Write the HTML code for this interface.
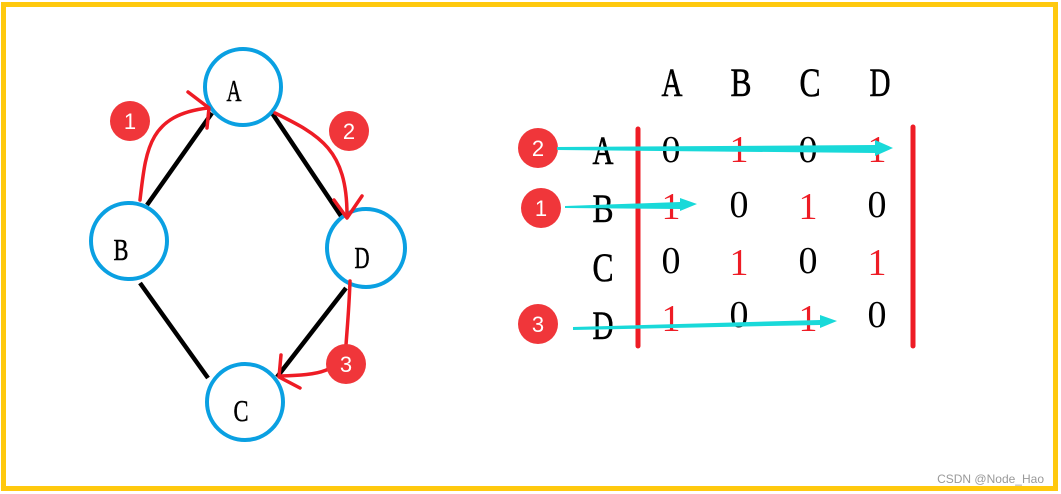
<!DOCTYPE html>
<html><head><meta charset="utf-8"><style>
html,body{margin:0;padding:0;background:#fff;}
svg{display:block}
</style></head><body>
<svg width="1061" height="494" viewBox="0 0 1061 494" xmlns="http://www.w3.org/2000/svg">
<rect x="3.5" y="4.5" width="1052" height="484" fill="#fff" stroke="#ffc90e" stroke-width="5"/>
<g stroke="#000" stroke-width="4.5" stroke-linecap="butt">
<line x1="147" y1="205" x2="212" y2="113"/>
<line x1="272" y1="113" x2="341" y2="216"/>
<line x1="140" y1="283" x2="208" y2="378"/>
<line x1="346" y1="288" x2="277" y2="377"/>
</g>
<g fill="none" stroke="#0aa0e2" stroke-width="4">
<circle cx="243" cy="87" r="38"/>
<circle cx="129" cy="241" r="38"/>
<circle cx="366" cy="248" r="39"/>
<circle cx="245" cy="402" r="38"/>
</g>
<g font-family="'Liberation Serif',serif" font-size="31" text-anchor="middle" fill="#000" stroke="#000" stroke-width="0.5">
<text x="234" y="101" textLength="15" lengthAdjust="spacingAndGlyphs">A</text>
<text x="121" y="260" textLength="15" lengthAdjust="spacingAndGlyphs">B</text>
<text x="362" y="268" textLength="15" lengthAdjust="spacingAndGlyphs">D</text>
<text x="241" y="421" textLength="15" lengthAdjust="spacingAndGlyphs">C</text>
</g>
<g fill="none" stroke="#ee1c25" stroke-width="3.5" stroke-linecap="round" stroke-linejoin="round">
<path d="M140,200 C146,150 148,115 208,108"/>
<path d="M188,92 L209,108 L207,128"/>
<path d="M275,113 C320,135 347,150 347,215"/>
<path d="M334,200 L347,218 L362,196"/>
<path d="M350,281 C349,310 347,330 346,345 C340,372 320,375 280,376"/>
<path d="M281,355 L279,377 L300,388"/>
<line x1="638" y1="129" x2="638" y2="346" stroke-width="5"/>
<line x1="913" y1="127" x2="913" y2="346" stroke-width="5"/>
</g>
<g fill="#f0363a">
<circle cx="130" cy="121" r="20"/>
<circle cx="349" cy="131" r="20"/>
<circle cx="346" cy="364" r="20"/>
<circle cx="538" cy="148" r="20"/>
<circle cx="541" cy="208" r="20"/>
<circle cx="538" cy="324" r="20"/>
</g>
<g font-family="'Liberation Sans',sans-serif" font-size="22" fill="#fff" text-anchor="middle">
<text x="130" y="129">1</text>
<text x="349" y="139">2</text>
<text x="346" y="372">3</text>
<text x="538" y="156">2</text>
<text x="541" y="216">1</text>
<text x="538" y="332">3</text>
</g>
<g font-family="'Liberation Serif',serif" font-size="40" text-anchor="middle" fill="#000" stroke="#000" stroke-width="0.6">
<text x="672" y="96" textLength="21" lengthAdjust="spacingAndGlyphs">A</text>
<text x="741" y="96" textLength="21" lengthAdjust="spacingAndGlyphs">B</text>
<text x="810" y="96" textLength="21" lengthAdjust="spacingAndGlyphs">C</text>
<text x="880" y="96" textLength="21" lengthAdjust="spacingAndGlyphs">D</text>
<text x="603" y="164" textLength="21" lengthAdjust="spacingAndGlyphs">A</text>
<text x="603" y="222" textLength="21" lengthAdjust="spacingAndGlyphs">B</text>
<text x="603" y="281" textLength="21" lengthAdjust="spacingAndGlyphs">C</text>
<text x="603" y="339" textLength="21" lengthAdjust="spacingAndGlyphs">D</text>
</g>
<g font-family="'Liberation Serif',serif" font-size="38" text-anchor="middle">
<text x="671" y="162" fill="#000">0</text><text x="739" y="162" fill="#ee1c25">1</text><text x="808" y="162" fill="#000">0</text><text x="877" y="162" fill="#ee1c25">1</text>
<text x="671" y="219" fill="#ee1c25">1</text><text x="739" y="217" fill="#000">0</text><text x="808" y="219" fill="#ee1c25">1</text><text x="877" y="217" fill="#000">0</text>
<text x="671" y="273" fill="#000">0</text><text x="739" y="275" fill="#ee1c25">1</text><text x="808" y="273" fill="#000">0</text><text x="877" y="275" fill="#ee1c25">1</text>
<text x="671" y="331" fill="#ee1c25">1</text><text x="739" y="327" fill="#000">0</text><text x="808" y="331" fill="#ee1c25">1</text><text x="877" y="327" fill="#000">0</text>
</g>
<g fill="#19d9d9">
<polygon points="557,147 875,145 875,140 893,148 875,156 875,153 557,150"/>
<polygon points="565,206 680,202 680,198 697,204 680,211 680,209 565,208"/>
<polygon points="573,327 820,320 820,315 837,321 820,328 820,325 573,330"/>
</g>
<text x="1044" y="483" font-family="'Liberation Sans',sans-serif" font-size="12" fill="#999" text-anchor="end">CSDN @Node_Hao</text>
</svg>
</body></html>
